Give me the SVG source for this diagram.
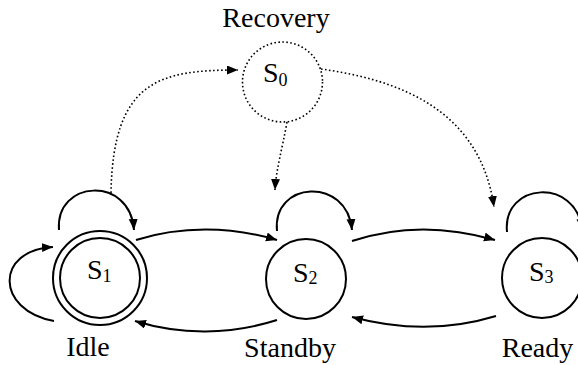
<svg xmlns="http://www.w3.org/2000/svg" width="578" height="365" viewBox="0 0 578 365">
<style>
.st{fill:#fff;stroke:#000;stroke-width:2}
.dot{fill:none;stroke:#000;stroke-width:1.6;stroke-dasharray:1.6 2.4}
.e{fill:none;stroke:#000;stroke-width:2;marker-end:url(#ah)}
.d{fill:none;stroke:#000;stroke-width:1.6;stroke-dasharray:1.6 2.4;marker-end:url(#ah)}
text{font-family:"Liberation Serif","Tinos","Nimbus Roman","DejaVu Serif",serif;fill:#000}
.s{font-size:28px}
.sub{font-size:18px}
.lbl{font-size:28px;text-anchor:middle}
</style>
<defs>
<marker id="ah" markerUnits="userSpaceOnUse" markerWidth="12" markerHeight="10" refX="11" refY="4.5" orient="auto">
<path d="M0,0 L11,4.5 L0,9 z" fill="#000"/>
</marker>
</defs>
<g id="connectors">
<path class="e" d="M136,240 C180,226 230,226 277,240"/>
<path class="e" d="M352,241 C400,225 450,227 495,240"/>
<path class="e" d="M277,320 C230,335 180,335 135,321"/>
<path class="e" d="M496,316 C450,330 400,330 352,317"/>
<path class="e" d="M59,230 C55,180 130,175 134,230"/>
<path class="e" d="M54,321 C-5,310 -5,250 53,247"/>
<path class="e" d="M277,231 C272,181 347,176 352,230"/>
<path class="e" d="M507,232 C502,182 577,177 582,230"/>
<path class="d" d="M111,193 C113,80 160,70 238,70"/>
<path class="d" d="M287,122 C282,150 276,170 275,190"/>
<path class="d" d="M321,69 C400,80 480,110 494,207"/>
</g>
<g id="S0">
<circle class="dot" cx="282.5" cy="82" r="40" fill="none"/>
<text class="s" x="263" y="82">S<tspan class="sub" dy="4">0</tspan></text>
<text class="lbl" x="276" y="27">Recovery</text>
</g>
<g id="S1">
<circle class="st" cx="100" cy="278" r="47"/>
<circle class="st" cx="100" cy="278" r="40"/>
<text class="s" x="87" y="279">S<tspan class="sub" dy="3">1</tspan></text>
<text class="lbl" x="88" y="356">Idle</text>
</g>
<g id="S2">
<circle class="st" cx="306" cy="279" r="40"/>
<text class="s" x="293" y="282">S<tspan class="sub" dy="2">2</tspan></text>
<text class="lbl" x="290" y="357">Standby</text>
</g>
<g id="S3">
<circle class="st" cx="542" cy="278" r="40"/>
<text class="s" x="529" y="281">S<tspan class="sub" dy="2">3</tspan></text>
<text class="lbl" x="537.5" y="357">Ready</text>
</g>
</svg>
